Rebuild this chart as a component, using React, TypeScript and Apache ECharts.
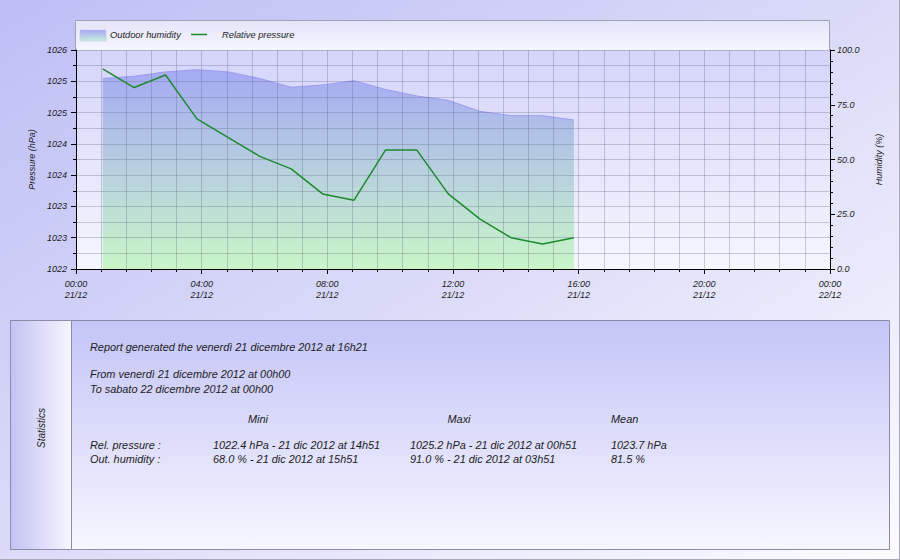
import React, { useEffect, useRef } from "react";
import * as echarts from "echarts";

// ---- data ----
const times = ["00:51", "01:51", "02:51", "03:51", "04:51", "05:51", "06:51", "07:51", "08:51", "09:51", "10:51", "11:51", "12:51", "13:51", "14:51", "15:51"];
const pressure = [1025.2, 1024.9, 1025.1, 1024.4, 1024.1, 1023.8, 1023.6, 1023.2, 1023.1, 1023.9, 1023.9, 1023.2, 1022.8, 1022.5, 1022.4, 1022.5];
const humidity = [87, 88, 90, 91, 90, 87, 83, 84, 86, 82, 79, 77, 72, 70, 70, 68];

const dayStart = "21/12";
const dayEnd = "22/12";

const reportLines = [
  "Report generated the venerdì 21 dicembre 2012 at 16h21",
  "From venerdì 21 dicembre 2012 at 00h00",
  "To sabato 22 dicembre 2012 at 00h00",
];
const statHeaders = ["Mini", "Maxi", "Mean"];
const statLabels = ["Rel. pressure :", "Out. humidity :"];
const statMin = ["1022.4 hPa - 21 dic 2012 at 14h51", "68.0 % - 21 dic 2012 at 15h51"];
const statMax = ["1025.2 hPa - 21 dic 2012 at 00h51", "91.0 % - 21 dic 2012 at 03h51"];
const statMean = ["1023.7 hPa", "81.5 %"];

const toHours = (t: string) => {
  const [h, m] = t.split(":").map(Number);
  return h + m / 60;
};

const FONT = '"Liberation Sans", Arial, sans-serif';
const TXT = "#1c1c1c";
const STAT_SIZE = 10.9;

function txt(text: string, x: number, y: number, size: number, align = "left", extra: any = {}) {
  return {
    type: "text",
    x,
    y,
    z: 50,
    ...extra,
    style: {
      text,
      font: `italic ${size}px ${FONT}`,
      fill: TXT,
      align,
      verticalAlign: "middle",
      textAlign: align,
      textVerticalAlign: "middle",
    },
  };
}

export default function App() {
  const ref = useRef<HTMLDivElement>(null);

  useEffect(() => {
    if (!ref.current) return;
    const chart = echarts.init(ref.current, null, { renderer: "svg" });

    const grad = (x: number, y: number, x2: number, y2: number, c0: string, c1: string, global = false) =>
      new echarts.graphic.LinearGradient(x, y, x2, y2, [
        { offset: 0, color: c0 },
        { offset: 1, color: c1 },
      ], global);

    const gridColor = "rgba(95,95,135,0.3)";
    const labelStyle = { fontFamily: FONT, fontStyle: "italic" as const, fontSize: 9, color: TXT };

    const graphic: any[] = [
      // legend box
      {
        type: "rect",
        shape: { x: 75.5, y: 20.5, width: 754, height: 30 },
        style: { fill: grad(0, 0, 0, 1, "#e4e4fa", "#f6f6fe"), stroke: "#a0a0b4", lineWidth: 1 },
        z: -10,
      },
      {
        type: "rect",
        shape: { x: 80, y: 30, width: 26, height: 11 },
        style: { fill: grad(0, 0, 0, 1, "#a8a8f4", "#c6eedc"), stroke: "#c0c0e8", lineWidth: 0.5 },
        z: 50,
      },
      txt("Outdoor humidity", 110, 35, 9.3),
      {
        type: "line",
        shape: { x1: 191, y1: 34.5, x2: 207, y2: 34.5 },
        style: { stroke: "#1e8a2e", lineWidth: 1.5 },
        z: 50,
      },
      txt("Relative pressure", 222, 35, 9.3),
      // stats panel
      {
        type: "rect",
        shape: { x: 10.5, y: 320.5, width: 879, height: 229 },
        style: { fill: grad(0, 0, 0, 1, "#c4c4f8", "#f6f6fe"), stroke: "#8c8ca8", lineWidth: 1 },
        z: -10,
      },
      {
        type: "rect",
        shape: { x: 10.5, y: 320.5, width: 61, height: 229 },
        style: { fill: grad(0, 0, 1, 0, "#c2c2f4", "#f6f6fe"), stroke: "#8c8ca8", lineWidth: 1 },
        z: -9,
      },
      txt("Statistics", 41, 428, 10, "center", { rotation: Math.PI / 2 }),
      txt(reportLines[0], 90, 347, STAT_SIZE),
      txt(reportLines[1], 90, 374, STAT_SIZE),
      txt(reportLines[2], 90, 389, STAT_SIZE),
      txt(statHeaders[0], 258, 419, STAT_SIZE, "center"),
      txt(statHeaders[1], 459, 419, STAT_SIZE, "center"),
      txt(statHeaders[2], 611, 419, STAT_SIZE),
      // outer frame (right/bottom)
      {
        type: "line",
        shape: { x1: 899.5, y1: 0, x2: 899.5, y2: 560 },
        style: { stroke: "#a8a8b8", lineWidth: 1 },
      },
      {
        type: "line",
        shape: { x1: 0, y1: 559.5, x2: 900, y2: 559.5 },
        style: { stroke: "#a8a8b8", lineWidth: 1 },
      },
    ];
    statLabels.forEach((l, i) => {
      const y = 445 + i * 14;
      graphic.push(txt(l, 90, y, STAT_SIZE));
      graphic.push(txt(statMin[i], 213, y, STAT_SIZE));
      graphic.push(txt(statMax[i], 410, y, STAT_SIZE));
      graphic.push(txt(statMean[i], 611, y, STAT_SIZE));
    });

    const pad = (n: number) => (n < 10 ? "0" + n : "" + n);

    chart.setOption({
      animation: false,
      backgroundColor: "transparent",
      grid: {
        left: 76,
        right: 70,
        top: 50,
        bottom: 291,
        show: true,
        backgroundColor: grad(0, 0, 0, 1, "#d4d4fa", "#f6f6fe"),
        borderWidth: 0,
      },
      xAxis: {
        type: "value",
        min: 0,
        max: 24,
        interval: 4,
        z: 10,
        axisLine: { show: true, lineStyle: { color: "#000", width: 1 } },
        axisTick: { show: true, length: 5, lineStyle: { color: "#000" } },
        minorTick: { show: true, splitNumber: 5, length: 3, lineStyle: { color: "#000" } },
        splitLine: { show: true, lineStyle: { color: gridColor, width: 1 } },
        minorSplitLine: { show: true, lineStyle: { color: gridColor, width: 1 } },
        axisLabel: {
          ...labelStyle,
          lineHeight: 11,
          margin: 9,
          formatter: (v: number) => (v >= 24 ? `00:00\n${dayEnd}` : `${pad(v)}:00\n${dayStart}`),
        },
      },
      yAxis: [
        {
          type: "value",
          position: "left",
          min: 1022,
          max: 1025.5,
          interval: 0.5,
          z: 10,
          name: "Pressure (hPa)",
          nameLocation: "middle",
          nameRotate: 90,
          nameGap: 40,
          nameTextStyle: { ...labelStyle },
          axisLine: { show: true, lineStyle: { color: "#000", width: 1 } },
          axisTick: { show: true, length: 5, lineStyle: { color: "#000" } },
          minorTick: { show: true, splitNumber: 2, length: 3, lineStyle: { color: "#000" } },
          splitLine: { show: true, lineStyle: { color: gridColor, width: 1 } },
          minorSplitLine: { show: true, lineStyle: { color: gridColor, width: 1 } },
          axisLabel: { ...labelStyle, margin: 9, formatter: (v: number) => String(Math.round(v)) },
        },
        {
          type: "value",
          position: "right",
          min: 0,
          max: 100,
          interval: 25,
          z: 10,
          name: "Humidity (%)",
          nameLocation: "middle",
          nameRotate: 90,
          nameGap: 44,
          nameTextStyle: { ...labelStyle },
          axisLine: { show: true, lineStyle: { color: "#000", width: 1 } },
          axisTick: { show: true, length: 5, lineStyle: { color: "#000" } },
          minorTick: { show: true, splitNumber: 5, length: 3, lineStyle: { color: "#000" } },
          splitLine: { show: false },
          axisLabel: { ...labelStyle, margin: 7, formatter: (v: number) => v.toFixed(1) },
        },
      ],
      series: [
        {
          name: "Outdoor humidity",
          type: "line",
          yAxisIndex: 1,
          data: times.map((t, i) => [toHours(t), humidity[i]]),
          showSymbol: false,
          symbol: "none",
          lineStyle: { color: "#9c9cee", width: 1 },
          areaStyle: { color: grad(0, 50, 0, 269, "#a2a2f8", "#c8f6c8", true), opacity: 1 },
          z: 2,
        },
        {
          name: "Relative pressure",
          type: "line",
          yAxisIndex: 0,
          data: times.map((t, i) => [toHours(t), pressure[i]]),
          showSymbol: false,
          symbol: "none",
          lineStyle: { color: "#1e8a2e", width: 1.5 },
          z: 20,
        },
      ],
      graphic,
    });

    return () => chart.dispose();
  }, []);

  return (
    <div
      style={{
        position: "absolute",
        left: 0,
        top: 0,
        width: 900,
        height: 560,
        background: "linear-gradient(to bottom right, #bebef6 0%, #d8d8f8 45%, #fbfbff 100%)",
      }}
    >
      <div ref={ref} style={{ width: 900, height: 560 }} />
    </div>
  );
}
